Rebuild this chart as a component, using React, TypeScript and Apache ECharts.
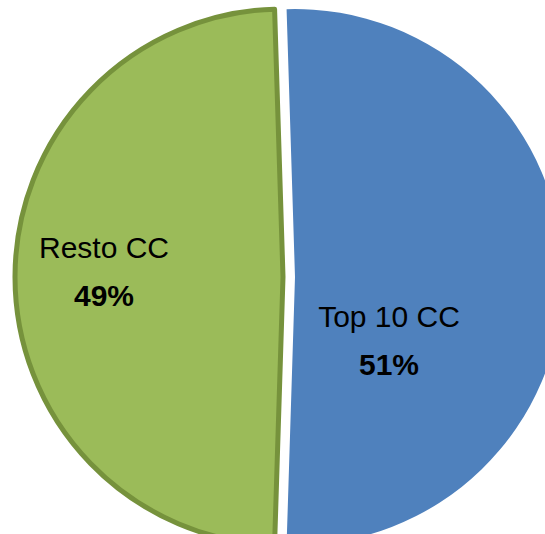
import React, { useEffect, useRef } from "react";
import * as echarts from "echarts";

const categories = ["Top 10 CC", "Resto CC"];
const values = [51, 49];
const colors = ["#4F81BD", "#9BBB59"];
const greenBorder = "#76923C";

export default function App() {
  const ref = useRef<HTMLDivElement>(null);
  useEffect(() => {
    document.body.style.margin = "0";
    if (!ref.current) return;
    const chart = echarts.init(ref.current, null, { renderer: "svg" });
    const cx = 283;
    const cy = 277;
    const r = 268;
    const explode = [12, 0];
    const labelPos = [
      { x: 389, y: 340 },
      { x: 104, y: 271 },
    ];
    const rich = {
      name: {
        fontFamily: "Liberation Sans",
        fontSize: 30,
        color: "#000",
        lineHeight: 48,
      },
      pct: {
        fontFamily: "Liberation Sans",
        fontSize: 30,
        fontWeight: "bold",
        color: "#000",
        lineHeight: 48,
      },
    };
    const series = categories.map((_, s) => ({
      type: "pie",
      center: [cx + explode[s], cy],
      radius: r,
      startAngle: 91.8,
      clockwise: true,
      silent: true,
      avoidLabelOverlap: false,
      emphasis: { disabled: true },
      labelLine: { show: false },
      labelLayout: (params: any) =>
        params.dataIndex === s
          ? {
              x: labelPos[s].x,
              y: labelPos[s].y,
              align: "center",
              verticalAlign: "middle",
            }
          : {},
      data: categories.map((name, i) => ({
        name,
        value: values[i],
        label:
          i === s
            ? {
                show: true,
                position: "inside",
                formatter: (p: any) => `{name|${p.name}}\n{pct|${p.value}%}`,
                rich,
              }
            : { show: false },
        itemStyle:
          i !== s
            ? { color: "rgba(0,0,0,0)", borderWidth: 0 }
            : i === 0
            ? { color: colors[0], borderWidth: 0 }
            : { color: colors[1], borderColor: greenBorder, borderWidth: 5 },
      })),
    }));
    chart.setOption({ animation: false, series });
    return () => chart.dispose();
  }, []);
  return <div ref={ref} style={{ width: 545, height: 534 }} />;
}
